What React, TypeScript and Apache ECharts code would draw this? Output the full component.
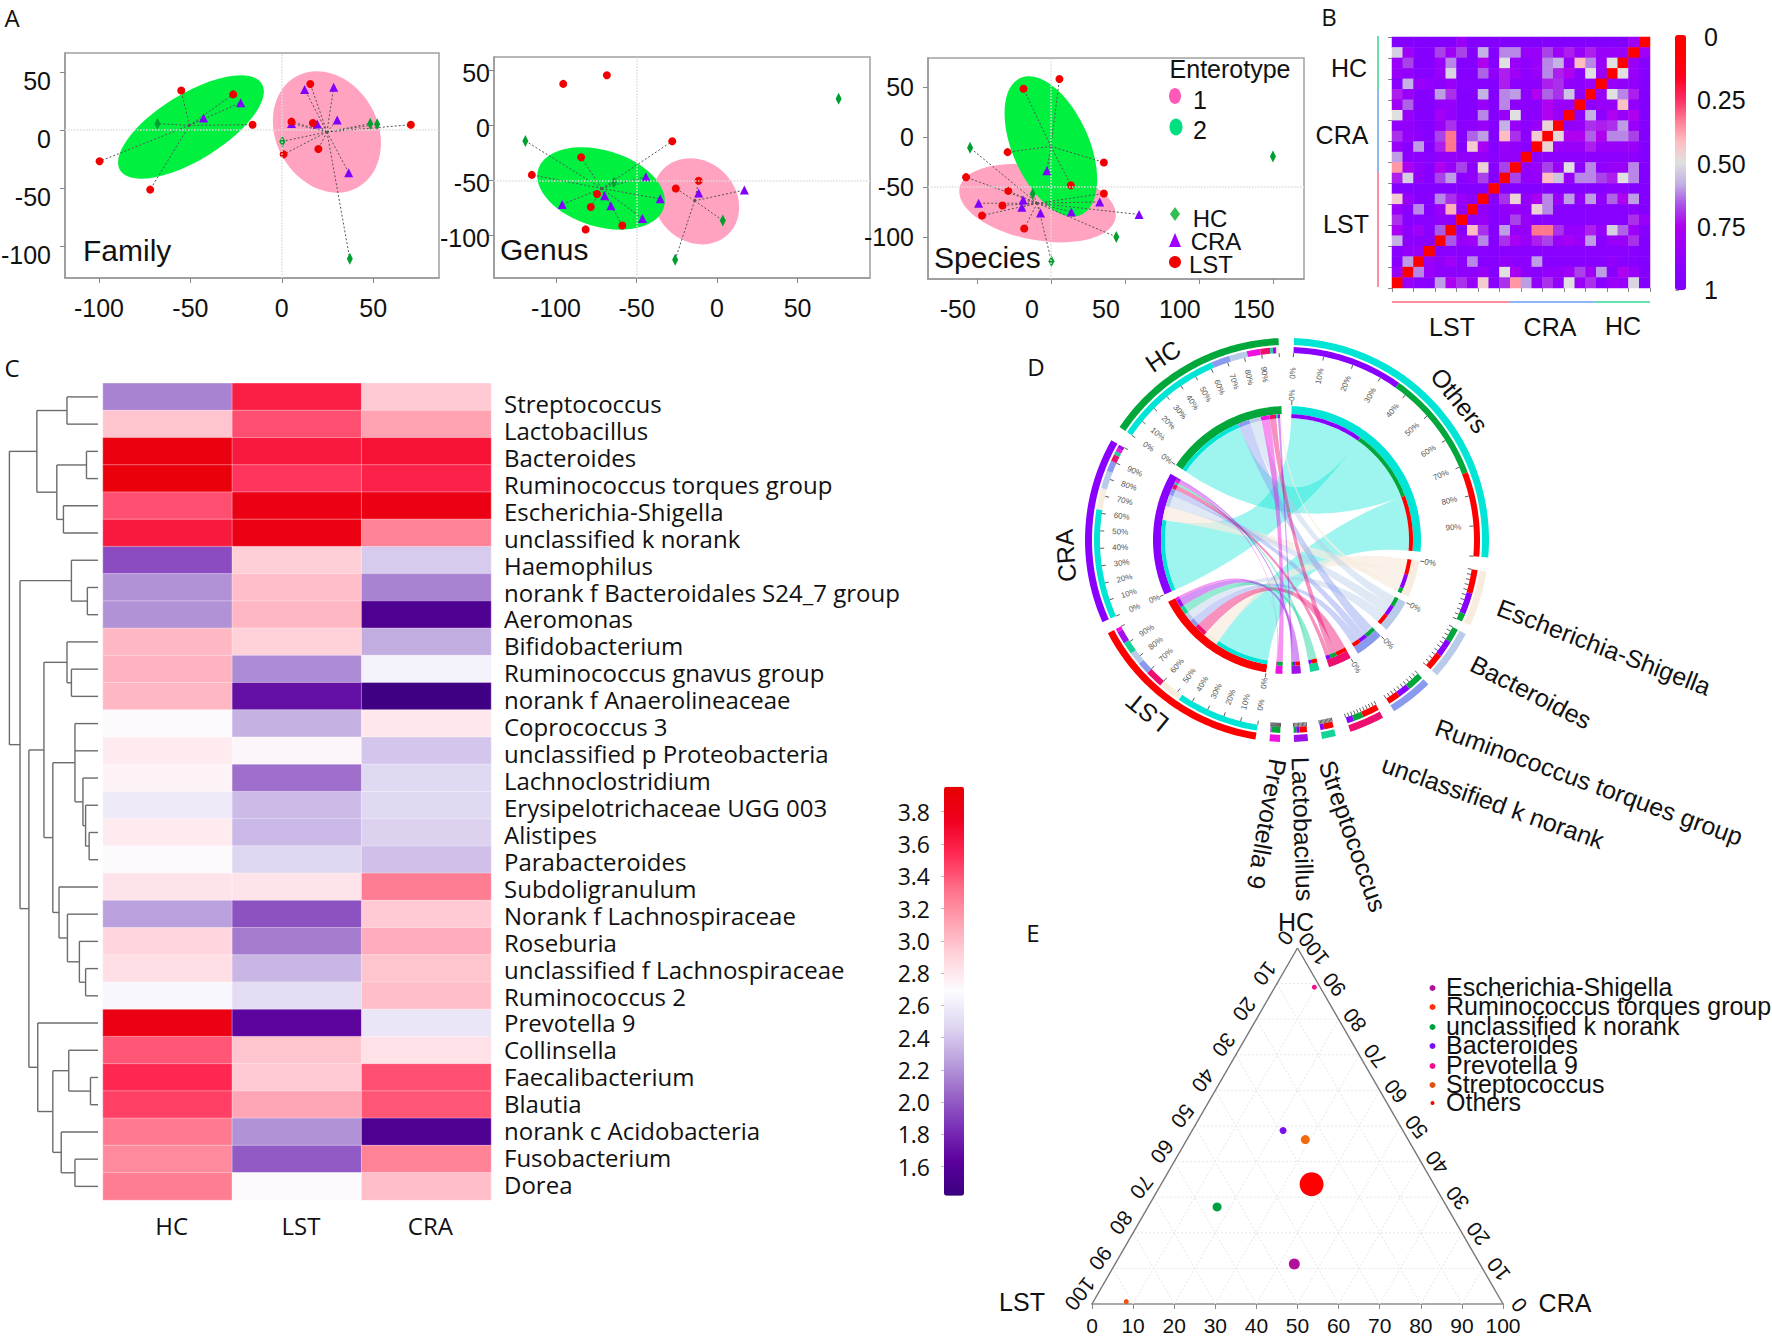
import React, { useEffect, useRef } from "react";
import * as echarts from "echarts";

const SANS = "Liberation Sans";
const HUMAN = "Open Sans";
const COL_LST = "#ff0000";
const COL_CRA = "#8a00ff";
const COL_HC = "#00a83c";
const COL_OTHERS = "#00e5d5";

// ---------- Panel A: [x, y, enterotype]; enterotype 0 = not linked to a centre
const familyLST = [[-55,34,2],[-26.6,30.7,2],[-16,4.6,2],[-99.7,-27,2],[-72,-51.4,2],[15.6,39.7,1],[5.3,7.2,1],[17,6,1],[20,-16.4,1],[1,-21,1],[70.6,4.6,1]];
const familyCRA = [[-22.5,23.6,2],[-42.8,10.3,2],[12.5,35,1],[28.4,36.8,1],[5.3,5.7,1],[19.4,5.2,1],[30.3,8.6,1],[36.6,-36.8,1]];
const familyHC = [[-68,5.5,2],[0.3,-9.8,1],[48.4,5.5,1],[52.2,4.9,1],[37.2,-111,1]];
const familyCentres = { 1: [24.7,-1.7], 2: [-50.6,4] };
const genusLST = [[-95.5,37.6,0],[-68.4,45.5,0],[-27.8,-14.5,2],[-84.4,-29,2],[-115,-45,2],[-11.4,-50.3,1],[-25.6,-57.3,1],[-74.5,-62.4,2],[-78.4,-74.2,2],[-58.8,-91,2],[-81.6,-94.5,0]];
const genusCRA = [[-44.2,-46.7,2],[17,-58.8,1],[-11.4,-61.5,1],[-69.8,-64,2],[-35.3,-66.7,2],[-96.2,-71.8,2],[-65.9,-73,2],[-46.3,-84.5,2]];
const genusHC = [[75.5,24.2,0],[-119,-14.2,2],[-64,-52,2],[3.6,-86.4,1],[-26,-122,1]];
const genusCentres = { 1: [-13.9,-68.5], 2: [-71.6,-57.3] };
const speciesLST = [[5.8,58,2],[-18.5,48.3,2],[-29.2,-15,2],[35.8,-25.3,2],[-57.3,-40,1],[13.5,-48,2],[-28.8,-53.7,1],[35.8,-56.3,1],[-32.7,-68.3,1],[-46.5,-78.3,1],[-18,-91.3,1]];
const speciesCRA = [[-2.7,-33.7,2],[-18.8,-62.7,1],[33,-64.7,1],[-48.8,-66,1],[-19.6,-70,1],[-7,-75.7,1],[13.8,-74.7,1],[59.6,-77.3,1]];
const speciesHC = [[-54.6,-10.7,1],[150,-19.3,0],[-12.3,-56.7,1],[44.2,-99.7,1],[0.4,-124,1]];
const speciesCentres = { 1: [-9.2,-66], 2: [0,-9.3] };

// ---------- Panel B: dissimilarity matrix, top row first
const bMatrix = [
  [.97,.97,.97,.97,.97,.97,.85,.97,.97,.97,.97,.97,.97,.97,.97,.97,.97,.97,.97,.97,.97,.97,.82,0],
  [.53,.82,.95,.95,.68,.82,.68,.95,.58,.95,.62,.62,.85,.85,.68,.82,.72,.85,.72,.85,.85,.85,0,.82],
  [.85,.68,.95,.95,.85,.62,.95,.95,.75,.95,.5,.85,.9,.85,.62,.58,.85,.42,.62,.85,.5,0,.85,.95],
  [.85,.88,.93,.93,.85,.52,.95,.95,.65,.88,.72,.82,.9,.85,.62,.72,.75,.9,.5,.85,0,.5,.85,.95],
  [.93,.58,.85,.87,.9,.85,.93,.93,.93,.95,.72,.9,.9,.9,.72,.7,.88,.9,.85,0,.85,.88,.88,.97],
  [.72,.85,.95,.95,.6,.7,.95,.95,.58,.95,.62,.6,.9,.75,.65,.7,.55,.9,0,.85,.5,.62,.72,.97],
  [.82,.65,.95,.95,.87,.87,.95,.95,.85,.95,.62,.9,.9,.9,.75,.85,.85,0,.9,.85,.85,.43,.88,.97],
  [.5,.85,.95,.95,.8,.87,.95,.95,.62,.95,.85,.5,.9,.9,.75,.85,0,.9,.58,.9,.75,.85,.75,.97],
  [.88,.88,.92,.95,.85,.7,.92,.9,.85,.95,.58,.85,.9,.85,.47,0,.88,.85,.7,.72,.7,.6,.85,.97],
  [.7,.87,.9,.95,.68,.33,.95,.65,.6,.95,.42,.7,.9,.45,0,.48,.75,.75,.65,.75,.62,.62,.68,.97],
  [.85,.92,.6,.95,.72,.33,.95,.45,.78,.95,.85,.88,.93,0,.47,.85,.85,.85,.72,.85,.85,.85,.85,.97],
  [.6,.9,.9,.93,.88,.88,.88,.88,.88,.93,.88,.88,0,.9,.9,.9,.9,.9,.9,.9,.9,.9,.9,.97],
  [.37,.78,.88,.93,.75,.85,.68,.9,.47,.93,.68,0,.88,.85,.68,.85,.5,.9,.62,.88,.85,.85,.62,.97],
  [.72,.53,.88,.93,.68,.6,.9,.88,.68,.95,0,.68,.88,.87,.42,.55,.85,.62,.62,.68,.72,.5,.62,.97],
  [.95,.95,.95,.95,.95,.95,.95,.95,.95,0,.95,.95,.95,.95,.95,.95,.95,.95,.95,.95,.9,.9,.95,.97],
  [.45,.85,.93,.95,.62,.7,.85,.9,0,.95,.7,.47,.87,.78,.62,.85,.6,.88,.6,.88,.65,.75,.6,.97],
  [.85,.92,.62,.95,.85,.4,.88,0,.88,.95,.88,.85,.88,.47,.62,.93,.93,.93,.93,.93,.93,.93,.9,.97],
  [.7,.93,.93,.93,.88,.9,0,.88,.85,.95,.9,.68,.85,.93,.93,.93,.93,.93,.93,.93,.93,.93,.7,.85],
  [.78,.9,.82,.93,.66,0,.93,.42,.7,.95,.6,.87,.87,.33,.33,.7,.87,.87,.72,.87,.53,.65,.82,.95],
  [.58,.9,.9,.93,0,.66,.85,.82,.62,.95,.7,.78,.85,.72,.68,.85,.8,.85,.6,.93,.85,.85,.7,.97],
  [.93,.87,.85,0,.92,.92,.92,.92,.92,.95,.92,.92,.92,.92,.92,.92,.92,.92,.92,.92,.92,.92,.92,.97],
  [.93,.6,0,.85,.88,.82,.9,.62,.93,.95,.88,.9,.9,.6,.93,.93,.93,.93,.93,.93,.88,.93,.93,.97],
  [.85,0,.62,.85,.9,.9,.9,.9,.85,.95,.5,.78,.9,.92,.87,.87,.82,.68,.82,.6,.93,.75,.85,.97],
  [0,.85,.92,.92,.6,.76,.7,.85,.45,.93,.7,.37,.6,.88,.7,.88,.5,.85,.7,.93,.85,.85,.52,.97],
];
const bTicks = [0, 0.25, 0.5, 0.75, 1];

// ---------- Panel C
const cSamples = ["HC", "LST", "CRA"];
const cGenera = ["Streptococcus","Lactobacillus","Bacteroides","Ruminococcus torques group","Escherichia-Shigella","unclassified k norank","Haemophilus","norank f Bacteroidales S24_7 group","Aeromonas","Bifidobacterium","Ruminococcus gnavus group","norank f Anaerolineaceae","Coprococcus 3","unclassified p Proteobacteria","Lachnoclostridium","Erysipelotrichaceae UGG 003","Alistipes","Parabacteroides","Subdoligranulum","Norank f Lachnospiraceae","Roseburia","unclassified f Lachnospiraceae","Ruminococcus 2","Prevotella 9","Collinsella","Faecalibacterium","Blautia","norank c Acidobacteria","Fusobacterium","Dorea"];
const cHC = [2.15,2.97,3.85,3.88,3.42,3.62,1.95,2.2,2.2,3.03,3.05,3.03,2.7,2.78,2.74,2.58,2.78,2.7,2.82,2.25,2.9,2.85,2.66,3.82,3.4,3.55,3.47,3.28,3.22,3.27];
const cLST = [3.6,3.42,3.62,3.5,3.83,3.83,2.93,3.0,3.03,2.92,2.18,1.7,2.32,2.72,2.08,2.36,2.35,2.47,2.82,1.97,2.12,2.34,2.5,1.65,2.97,2.95,3.1,2.2,2.0,2.7];
const cCRA = [2.95,3.12,3.66,3.58,3.82,3.25,2.42,2.15,1.55,2.3,2.63,1.45,2.8,2.4,2.48,2.48,2.45,2.38,3.27,2.95,3.07,2.97,3.0,2.55,2.83,3.42,3.4,1.55,3.25,3.0];
const cTicks = [1.6,1.8,2.0,2.2,2.4,2.6,2.8,3.0,3.2,3.4,3.6,3.8];
// dendrogram: [height, ...children]; a bare number is a row of the heat map
const cTree: any = [100,
  [69, [35,0,1], [46.5, [13,2,3], [39,4,5]]],
  [88,
    [30,6,[12,7,8]],
    [78,
      [61,
        [35,9,[30,10,11]],
        [51,
          [26,12,13,[17,14,[14,15,[10,16,17]]]],
          [44,18,[34.5,19,[21,20,[14,21,22]]]]
        ]
      ],
      [68,23,[51,[33,24,[8.5,25,26]],[41.5,27,[26,28,29]]]]
    ]
  ]
];

// ---------- Panel D
const dNames = ["Others","Escherichia-Shigella","Bacteroides","Ruminococcus torques group","unclassified k norank","Streptococcus","Lactobacillus","Prevotella 9","LST","CRA","HC"];
const dStart = [2,99,117.7,135.6,151.6,166,174,182,189,246,304];
const dEnd = [95,115,132,148,161.7,170,178,185,242.5,299.6,357.6];
const dColours = [COL_OTHERS,"#f8ecdf","#b8cbe8","#8a9bef","#ee0e70","#12d398","#a010e8","#f010e0",COL_LST,COL_CRA,COL_HC];
const dShares: Record<string, [string, number][]> = {
  "Others": [["CRA",36],["HC",36.5],["LST",27.5]],
  "Escherichia-Shigella": [["LST",45],["CRA",40],["HC",15]],
  "Bacteroides": [["HC",30],["CRA",35],["LST",35]],
  "Ruminococcus torques group": [["HC",40],["CRA",30],["LST",30]],
  "unclassified k norank": [["LST",50],["HC",30],["CRA",20]],
  "Streptococcus": [["LST",70],["CRA",30]],
  "Lactobacillus": [["LST",55],["CRA",25],["HC",20]],
  "Prevotella 9": [["HC",90],["LST",5],["CRA",5]],
  "LST": [["Others",47],["Escherichia-Shigella",13],["unclassified k norank",10],["Ruminococcus torques group",7],["Bacteroides",7],["Streptococcus",7],["Lactobacillus",7],["Prevotella 9",2]],
  "CRA": [["Others",62],["Escherichia-Shigella",12],["Bacteroides",10],["Ruminococcus torques group",6],["unclassified k norank",4],["Streptococcus",2],["Prevotella 9",2],["Lactobacillus",2]],
  "HC": [["Others",61.6],["Ruminococcus torques group",10.4],["Bacteroides",10],["Prevotella 9",7.5],["unclassified k norank",5.5],["Streptococcus",1.5],["Lactobacillus",2],["Escherichia-Shigella",1.5]],
};
const dGroups = ["LST","CRA","HC"];
const dNoInnerLabel = ["Streptococcus","Lactobacillus","Prevotella 9"];
const dPercents = [0,10,20,30,40,50,60,70,80,90];

// ---------- Panel E
const eNames = ["Escherichia-Shigella","Ruminococcus torques group","unclassified k norank","Bacteroides","Prevotella 9","Streptococcus","Others"];
const eLST = [45.15,91.3,56,29.14,1.4,25,29.8];
const eCRA = [43.6,8,16.8,22.12,9.6,28.8,36.6];
const eHC = [11.25,0.66,27.27,48.74,89,46.2,33.65];
const eColours = ["#b0109a","#f05010","#00a040","#7a10f0","#f01090","#f06a10","#ff0000"];
const eSizes = [11,5,9,7,5,9,24];
const eLegendColours = ["#b0109a","#ff3010","#00a040","#7a10f0","#f01090","#e05010","#ff0000"];
const eTicks = [0,10,20,30,40,50,60,70,80,90,100];

const heatB = ["#ff0000","#ff0000","#ff0020","#ff2a60","#ff7a90","#ffbcc0","#e0e0e0","#c4b0e4","#a850e8","#b000f0","#9c00f8","#8a00ff","#7f00ff"];
const heatC = ["#3a0080","#5a009c","#7a30b8","#9a68c8","#bca4de","#e0d8f2","#fcfcff","#ffd6dd","#ffa4b4","#ff7088","#ff2a55","#f00020","#e60000"];

const tx = (text: string, x: number, y: number, o: any = {}) => ({
  type: "text", x, y, rotation: ((o.rot || 0) * Math.PI) / 180, silent: true, z: 50,
  style: { text, fontSize: o.size || 25, fontFamily: o.font || SANS, fill: o.fill || "#111", align: o.align || "center", verticalAlign: "middle" },
});

function buildOption() {
  const grids: any[] = [], xAxes: any[] = [], yAxes: any[] = [], series: any[] = [];
  const addGrid = (g: any, x: any, y: any) => { grids.push({ outerBoundsMode: "none", ...g }); const i = grids.length - 1; xAxes.push({ gridIndex: i, ...x }); yAxes.push({ gridIndex: i, ...y }); return i; };
  const segments = (i: number, segs: number[][], style: any) => ({
    type: "custom", xAxisIndex: i, yAxisIndex: i, silent: true, data: segs, encode: { x: [0, 2], y: [1, 3] },
    renderItem: (_: any, api: any) => {
      const a = api.coord([api.value(0), api.value(1)]), b = api.coord([api.value(2), api.value(3)]);
      return { type: "line", shape: { x1: a[0], y1: a[1], x2: b[0], y2: b[1] }, style: { fill: null, ...style } };
    },
  });
  const axisStyle = { axisLine: { onZero: false, lineStyle: { color: "#999", width: 1.5 } }, axisTick: { lineStyle: { color: "#888" }, length: 5 }, splitLine: { show: false } };

  // ---- Panel A
  const pcoa = [
    { box: [65,53,374,225], xr: [-118.6,86], yr: [-127.6,66.4], xt: [-100,-50,0,50], yt: [-100,-50,0,50], ref: [0,0], c: familyCentres, lst: familyLST, cra: familyCRA, hc: familyHC, ym: 14, lh: 18, xp: undefined,
      ell: [[24.7,-1.7,63.4,50.8,119,"#ffa3c0"],[-49.7,2.6,83,33,31.5,"#00f040"]] },
    { box: [494,57,376,221], xr: [-138.5,95], yr: [-138.6,62], xt: [-100,-50,0,50], yt: [-100,-50,0,50], ref: [-50,-50], c: genusCentres, lst: genusLST, cra: genusCRA, hc: genusHC, ym: 4, lh: 6, xp: undefined,
      ell: [[-13,-69,46,40,135,"#ffa3c0"],[-72,-57.3,65.7,38.2,-17,"#00f040"]] },
    { box: [928,58,376,221], xr: [-83,171], yr: [-141.7,79], xt: [-50,0,50,100,150], yt: [-100,-50,0,50], ref: [0,-50], c: speciesCentres, lst: speciesLST, cra: speciesCRA, hc: speciesHC, ym: 14, lh: 0, xp: [0,38,0,0],
      ell: [[-9,-66,79.4,36.8,-11,"#ffa3c0"],[0,-9.3,74.8,38.2,114,"#00f040"]] },
  ];
  pcoa.forEach((p) => {
    const yLabelShift = p.lh ? { verticalAlign: "top", lineHeight: p.lh } : {};
    const i = addGrid(
      { left: p.box[0], top: p.box[1], width: p.box[2], height: p.box[3], show: true, borderColor: "#a0a0a0", borderWidth: 1.5, backgroundColor: "transparent" },
      { type: "value", min: p.xr[0], max: p.xr[1], ...axisStyle, axisTick: { ...axisStyle.axisTick, customValues: p.xt }, axisLabel: { customValues: p.xt, fontSize: 25, fontFamily: SANS, color: "#111", margin: 17, padding: p.xp } },
      { type: "value", min: p.yr[0], max: p.yr[1], ...axisStyle, axisTick: { ...axisStyle.axisTick, customValues: p.yt }, axisLabel: { customValues: p.yt, fontSize: 25, fontFamily: SANS, color: "#111", margin: p.ym, ...yLabelShift } },
    );
    series.push({
      type: "scatter", name: "reference lines", xAxisIndex: i, yAxisIndex: i, silent: true, z: 1, data: [],
      markLine: { silent: true, symbol: "none", label: { show: false }, lineStyle: { color: "#ddd", type: "dotted", width: 1.5 }, data: [{ xAxis: p.ref[0] }, { yAxis: p.ref[1] }] },
    });
    series.push({
      type: "custom", xAxisIndex: i, yAxisIndex: i, silent: true, data: p.ell.map((e: any) => e.slice(0, 5)), encode: { x: 0, y: 1 },
      renderItem: (params: any, api: any) => {
        const c = api.coord([api.value(0), api.value(1)]);
        return { type: "ellipse", x: c[0], y: c[1], rotation: (api.value(4) * Math.PI) / 180, shape: { cx: 0, cy: 0, rx: api.value(2), ry: api.value(3) }, style: { fill: p.ell[params.dataIndex][5] } };
      },
    });
    const all = [...p.lst, ...p.cra, ...p.hc];
    const spokes = all.filter((q) => q[2] > 0).map((q) => [...(p.c as any)[q[2]], q[0], q[1]]);
    series.push(segments(i, spokes, { stroke: "#555", lineWidth: 1, lineDash: [2, 2] }));
    series.push({ type: "scatter", name: "centres", xAxisIndex: i, yAxisIndex: i, silent: true, symbolSize: 3, itemStyle: { color: "#555" }, data: [(p.c as any)[1], (p.c as any)[2]] });
    const sc = (name: string, d: number[][], symbol: string, size: any, color: string) => ({ type: "scatter", name, xAxisIndex: i, yAxisIndex: i, silent: true, symbol, symbolSize: size, itemStyle: { color, opacity: 1 }, data: d.map((q) => [q[0], q[1]]) });
    series.push(sc("HC", p.hc, "diamond", [6, 12], "#00a030"), sc("CRA", p.cra, "triangle", 9, "#8000ff"), sc("LST", p.lst, "circle", 8, "#f00000"));
  });

  // ---- Panel B
  const bCats = bMatrix.map((_, i) => String(i));
  const bAxis = (t: any) => ({ type: "category", data: bCats, axisLabel: { show: false }, axisLine: { show: false }, axisTick: { show: true, lineStyle: { color: "#888" }, length: 4 }, splitLine: { show: false }, ...t });
  const gB = addGrid({ left: 1392, top: 37, width: 258, height: 251 }, bAxis({}), bAxis({ inverse: true }));
  series.push({ type: "heatmap", xAxisIndex: gB, yAxisIndex: gB, silent: true, data: bMatrix.flatMap((row, r) => row.map((v, c) => [c, r, v])), itemStyle: { borderWidth: 0 }, emphasis: { disabled: true } });
  const bSeries = series.length - 1;
  addGrid({ left: 1675, top: 37, width: 11, height: 253 },
    { type: "value", min: 0, max: 1, show: false },
    { type: "value", min: 0, max: 1, inverse: true, position: "right", axisLine: { show: false }, splitLine: { show: false },
      axisTick: { customValues: bTicks, length: 4, lineStyle: { color: "#999" } },
      axisLabel: { customValues: bTicks, margin: 11, fontSize: 25, fontFamily: SANS, color: "#111", formatter: (v: number) => (v === 0 || v === 1 ? " " + v : v.toFixed(2)) } });

  // ---- Panel C
  const gDen = addGrid({ left: 9.4, top: 383.3, width: 88.6, height: 816.7 }, { type: "value", min: 0, max: 100, inverse: true, show: false }, { type: "value", min: 0, max: 30, inverse: true, show: false });
  const denSegs: number[][] = [];
  const walk = (n: any): [number, number] => {
    if (typeof n === "number") return [0, n + 0.5];
    const kids = n.slice(1).map(walk);
    const y0 = kids[0][1], y1 = kids[kids.length - 1][1];
    denSegs.push([n[0], y0, n[0], y1]);
    kids.forEach((k: number[]) => denSegs.push([k[0], k[1], n[0], k[1]]));
    return [n[0], (y0 + y1) / 2];
  };
  walk(cTree);
  series.push(segments(gDen, denSegs, { stroke: "#6c6c6c", lineWidth: 1.4 }));
  const gC = addGrid({ left: 103, top: 383.3, width: 388, height: 816.7 },
    { type: "category", data: cSamples, axisLine: { show: false }, axisTick: { show: false }, splitLine: { show: false }, axisLabel: { fontSize: 24, fontFamily: HUMAN, color: "#111", margin: 13, padding: [0, 0, 0, 8] } },
    { type: "category", data: cGenera, inverse: true, axisLine: { show: false }, axisTick: { show: false }, splitLine: { show: false }, axisLabel: { show: false } });
  series.push({ type: "heatmap", xAxisIndex: gC, yAxisIndex: gC, silent: true, emphasis: { disabled: true },
    itemStyle: { borderColor: "rgba(255,255,255,0.35)", borderWidth: 1 },
    data: cGenera.flatMap((_, r) => [cHC[r], cLST[r], cCRA[r]].map((v, c) => [c, r, v])) });
  const cSeries = series.length - 1;
  // the genus names sit on their own slightly tighter band, as they do in the figure
  addGrid({ left: 103, top: 390, width: 388, height: 808 },
    { type: "value", min: 0, max: 1, show: false },
    { type: "category", data: cGenera, inverse: true, position: "right", axisLine: { show: false }, axisTick: { show: false }, splitLine: { show: false }, axisLabel: { interval: 0, fontSize: 24, fontFamily: HUMAN, color: "#111", margin: 13, align: "left" } });
  addGrid({ left: 944, top: 786.7, width: 20, height: 409 },
    { type: "value", min: 0, max: 1, show: false },
    { type: "value", min: 1.42, max: 3.955, axisLine: { show: false }, splitLine: { show: false },
      axisTick: { customValues: cTicks, length: 3, lineStyle: { color: "#bbb" } },
      axisLabel: { customValues: cTicks, margin: 14, fontSize: 23, fontFamily: HUMAN, color: "#111", formatter: (v: number) => v.toFixed(1) } });

  // ---- Panel D: bands, ribbons, ticks and tick labels, all through the polar scales
  const R = { outer: [195, 202], comp: [187, 193], tick: [183, 187], pct: 167, inner: [126, 134], thin: [122, 126], ribbon: 122, inner0: 145 };
  const colourOf = (n: string) => dColours[dNames.indexOf(n)];
  const bands: any[] = [], ribbons: any[] = [], ticks: number[][] = [], pctLabels: any[] = [];
  const spans: Record<string, [number, number]> = {};
  dNames.forEach((name, k) => {
    const a0 = dStart[k], a1 = dEnd[k], span = a1 - a0;
    bands.push({ r: R.outer, a: [a0, a1], fill: dColours[k] }, { r: R.inner, a: [a0, a1], fill: dColours[k] });
    let acc = 0;
    dShares[name].forEach(([partner, pct]) => {
      const s = a0 + (span * acc) / 100, e = a0 + (span * (acc + pct)) / 100;
      acc += pct;
      bands.push({ r: R.comp, a: [s, e], fill: colourOf(partner) }, { r: R.thin, a: [s, e], fill: colourOf(partner) });
      spans[name + "|" + partner] = [s, e];
    });
    for (let p = 0; p <= 100; p += 10) ticks.push([R.tick[0], a0 + (span * p) / 100, R.tick[1], a0 + (span * p) / 100]);
    if (!dNoInnerLabel.includes(name)) {
      ticks.push([R.inner[1] + 1, a0, R.inner[1] + 5, a0]);
      pctLabels.push({ r: R.inner0, a: a0, t: "0%" });
    }
    if (dGroups.includes(name) || name === "Others") dPercents.forEach((p) => pctLabels.push({ r: R.pct, a: a0 + (span * p) / 100, t: p + "%" }));
  });
  dNames.forEach((name) => {
    if (dGroups.includes(name)) return;
    const col = colourOf(name);
    dGroups.forEach((g) => {
      const A = spans[name + "|" + g], B = spans[g + "|" + name];
      if (A && B) ribbons.push({ a: A, b: B, fill: col, op: name === "Escherichia-Shigella" ? 0.7 : name === "Others" ? 0.38 : 0.45 });
    });
  });
  const arcPts = (api: any, r: number, a0: number, a1: number) => {
    const n = Math.max(2, Math.ceil(Math.abs(a1 - a0))), pts: number[][] = [];
    for (let i = 0; i <= n; i++) pts.push(api.coord([r, a0 + ((a1 - a0) * i) / n]));
    return pts;
  };
  const polarSeries = (items: any[], render: (it: any, api: any) => any) => ({
    type: "custom", coordinateSystem: "polar", polarIndex: 0, silent: true, data: items.map(() => [1, 1]),
    renderItem: (params: any, api: any) => render(items[params.dataIndex], api),
  });
  series.push(polarSeries(ribbons, (it, api) => {
    const c = api.coord([0, 0]);
    const curve = (p: number[], q: number[]) => {
      const out: number[][] = [];
      for (let i = 1; i < 24; i++) { const t = i / 24, u = 1 - t; out.push([u * u * p[0] + 2 * u * t * c[0] + t * t * q[0], u * u * p[1] + 2 * u * t * c[1] + t * t * q[1]]); }
      return out;
    };
    const A = arcPts(api, R.ribbon, it.a[0], it.a[1]), B = arcPts(api, R.ribbon, it.b[0], it.b[1]);
    const pts = [...A, ...curve(A[A.length - 1], B[0]), ...B, ...curve(B[B.length - 1], A[0])];
    return { type: "polygon", shape: { points: pts }, style: { fill: it.fill, opacity: it.op } };
  }));
  series.push(polarSeries(bands, (it, api) => ({ type: "polygon", shape: { points: [...arcPts(api, it.r[1], it.a[0], it.a[1]), ...arcPts(api, it.r[0], it.a[1], it.a[0])] }, style: { fill: it.fill } })));
  series.push(polarSeries(ticks, (it, api) => {
    const a = api.coord([it[0], it[1]]), b = api.coord([it[2], it[3]]);
    return { type: "line", shape: { x1: a[0], y1: a[1], x2: b[0], y2: b[1] }, style: { stroke: "#333", lineWidth: 0.8 } };
  }));
  series.push(polarSeries(pctLabels, (it, api) => {
    const p = api.coord([it.r, it.a]);
    let rot = 90 - it.a; if (it.a > 180) rot += 180;
    return { type: "text", x: p[0], y: p[1], rotation: (rot * Math.PI) / 180, style: { text: it.t, fontSize: 8, fontFamily: SANS, fill: "#555", align: "center", verticalAlign: "middle" } };
  }));
  const dTitles = ["Others", "LST", "CRA", "HC"].map((n) => ({ t: n, a: n === "Others" ? 51 : n === "LST" ? 219 : n === "CRA" ? 266 : 326 }));
  series.push(polarSeries(dTitles, (it, api) => {
    const p = api.coord([222, it.a]);
    return { type: "text", x: p[0], y: p[1], rotation: (-it.a * Math.PI) / 180, style: { text: it.t, fontSize: 25, fontFamily: SANS, fill: "#111", align: "center", verticalAlign: "middle" } };
  }));

  // ---- Panel E
  const gE = addGrid({ left: 1092, top: 948, width: 411, height: 356 },
    { type: "value", min: 0, max: 100, interval: 10, axisLine: { lineStyle: { color: "#aaa", width: 2 } }, axisTick: { length: 5, lineStyle: { color: "#888" } }, splitLine: { show: false }, axisLabel: { fontSize: 21, fontFamily: SANS, color: "#111", margin: 11 } },
    { type: "value", min: 0, max: 100, show: false });
  const ternary = (cra: number, hc: number) => [cra + hc / 2, hc];
  const inner = eTicks.slice(1, -1);
  const gridSegs: number[][] = [];
  inner.forEach((t) => {
    gridSegs.push([...ternary(0, t), ...ternary(100 - t, t)]);
    gridSegs.push([...ternary(t, 0), ...ternary(t, 100 - t)]);
    gridSegs.push([...ternary(t, 0), ...ternary(0, t)]);
  });
  series.push(segments(gE, gridSegs, { stroke: "#e6e6e6", lineWidth: 1, lineDash: [2, 2] }));
  series.push(segments(gE, [[...ternary(0, 0), ...ternary(0, 100)], [...ternary(100, 0), ...ternary(0, 100)]], { stroke: "#777", lineWidth: 1.4 }));
  const edge = eTicks.flatMap((t) => [[...ternary(0, 100 - t), t, 0], [...ternary(100 - t, t), t, 1]]);
  series.push({
    type: "custom", xAxisIndex: gE, yAxisIndex: gE, silent: true, data: edge, encode: { x: 0, y: 1 },
    renderItem: (_: any, api: any) => {
      const p = api.coord([api.value(0), api.value(1)]), side = api.value(3);
      const dx = side === 0 ? -12 : 16, dy = side === 0 ? -10 : 1;
      return { type: "text", x: p[0] + dx, y: p[1] + dy, rotation: ((side === 0 ? -128 : 128) * Math.PI) / 180, style: { text: String(api.value(2)), fontSize: 21, fontFamily: SANS, fill: "#111", align: "center", verticalAlign: "middle" } };
    },
  });
  eNames.forEach((n, k) => series.push({ type: "scatter", name: n, xAxisIndex: gE, yAxisIndex: gE, silent: true, symbolSize: eSizes[k], itemStyle: { color: eColours[k], opacity: 1 }, data: [ternary(eCRA[k], eHC[k])] }));

  // ---- free labels
  const legendY = [987, 1006, 1026, 1045, 1065, 1084, 1102];
  const graphic: any[] = [
    tx("A", 12, 17, { font: HUMAN, size: 24 }), tx("B", 1329, 16, { font: HUMAN, size: 24 }), tx("C", 12, 367, { font: HUMAN, size: 24 }), tx("D", 1036, 366, { font: HUMAN, size: 24 }), tx("E", 1033, 932, { font: HUMAN, size: 24 }),
    tx("Family", 83, 250, { align: "left", size: 30 }), tx("Genus", 500, 249, { align: "left", size: 30 }), tx("Species", 934, 257, { align: "left", size: 30 }),
    tx("Enterotype", 1230, 69, { size: 25 }), tx("1", 1200, 100), tx("2", 1200, 130), tx("HC", 1210, 218, { size: 24 }), tx("CRA", 1216, 241, { size: 24 }), tx("LST", 1211, 264, { size: 24 }),
    { type: "ellipse", shape: { cx: 1175, cy: 96, rx: 6, ry: 8 }, style: { fill: "#ff5ab8" }, silent: true },
    { type: "ellipse", shape: { cx: 1176, cy: 127, rx: 6.5, ry: 8.5 }, style: { fill: "#00e080" }, silent: true },
    { type: "polygon", shape: { points: [[1175, 207], [1180, 214], [1175, 221], [1170, 214]] }, style: { fill: "#30c050" }, silent: true },
    { type: "polygon", shape: { points: [[1175, 233], [1181, 247], [1169, 247]] }, style: { fill: "#a000ff" }, silent: true },
    { type: "circle", shape: { cx: 1175, cy: 262, r: 6 }, style: { fill: "#f00000" }, silent: true },
    tx("HC", 1349, 68), tx("CRA", 1342, 135), tx("LST", 1346, 224), tx("LST", 1452, 327), tx("CRA", 1550, 327), tx("HC", 1623, 326),
    { type: "line", shape: { x1: 1378, y1: 36, x2: 1378, y2: 89 }, style: { stroke: "#30d890", lineWidth: 1.5 }, silent: true },
    { type: "line", shape: { x1: 1378, y1: 89, x2: 1378, y2: 172 }, style: { stroke: "#6aa0f0", lineWidth: 1.5 }, silent: true },
    { type: "line", shape: { x1: 1378, y1: 172, x2: 1378, y2: 287 }, style: { stroke: "#ff6680", lineWidth: 1.5 }, silent: true },
    { type: "line", shape: { x1: 1392, y1: 302, x2: 1510, y2: 302 }, style: { stroke: "#ff6680", lineWidth: 1.5 }, silent: true },
    { type: "line", shape: { x1: 1510, y1: 302, x2: 1595, y2: 302 }, style: { stroke: "#6aa0f0", lineWidth: 1.5 }, silent: true },
    { type: "line", shape: { x1: 1595, y1: 302, x2: 1650, y2: 302 }, style: { stroke: "#30d890", lineWidth: 1.5 }, silent: true },
    tx("Escherichia-Shigella", 1604, 647, { rot: -21 }), tx("Bacteroides", 1531, 692, { rot: -27 }), tx("Ruminococcus torques group", 1589, 782, { rot: -20 }), tx("unclassified k norank", 1493, 802, { rot: -19.5 }),
    tx("Streptococcus", 1353, 836, { rot: -70.7 }), tx("Lactobacillus", 1303, 829, { rot: -88 }), tx("Prevotella 9", 1267, 824, { rot: -100 }),
    tx("HC", 1296, 922), tx("LST", 1022, 1302), tx("CRA", 1565, 1303),
    ...eNames.map((n, k) => tx(n, 1446, legendY[k], { align: "left" })),
    ...eNames.map((_, k) => ({ type: "circle", shape: { cx: 1432.5, cy: legendY[k] + 1, r: k === 6 ? 2 : 3 }, style: { fill: eLegendColours[k] }, silent: true })),
  ];

  return {
    animation: false,
    backgroundColor: "#ffffff",
    textStyle: { fontFamily: SANS },
    grid: grids, xAxis: xAxes, yAxis: yAxes,
    polar: [{ center: [1287, 540], radius: 202 }],
    angleAxis: [{ polarIndex: 0, type: "value", min: 0, max: 360, startAngle: 90, show: false }],
    radiusAxis: [{ polarIndex: 0, type: "value", min: 0, max: 202, show: false }],
    visualMap: [
      { type: "continuous", seriesIndex: bSeries, min: 0, max: 1, inverse: true, left: 1675, top: 35, itemWidth: 11, itemHeight: 255, padding: 0, inRange: { color: heatB }, calculable: false, hoverLink: false, text: null },
      { type: "continuous", seriesIndex: cSeries, min: 1.42, max: 3.955, left: 944, top: 786.7, itemWidth: 20, itemHeight: 409, padding: 0, inRange: { color: heatC }, calculable: false, hoverLink: false, text: null },
    ],
    series, graphic,
  };
}

export default function App() {
  const ref = useRef<HTMLDivElement>(null);
  useEffect(() => {
    const chart = echarts.init(ref.current!, undefined, { renderer: "svg" });
    chart.setOption(buildOption() as any);
    return () => chart.dispose();
  }, []);
  return <div ref={ref} style={{ position: "absolute", left: 0, top: 0, width: 1772, height: 1339 }} />;
}
